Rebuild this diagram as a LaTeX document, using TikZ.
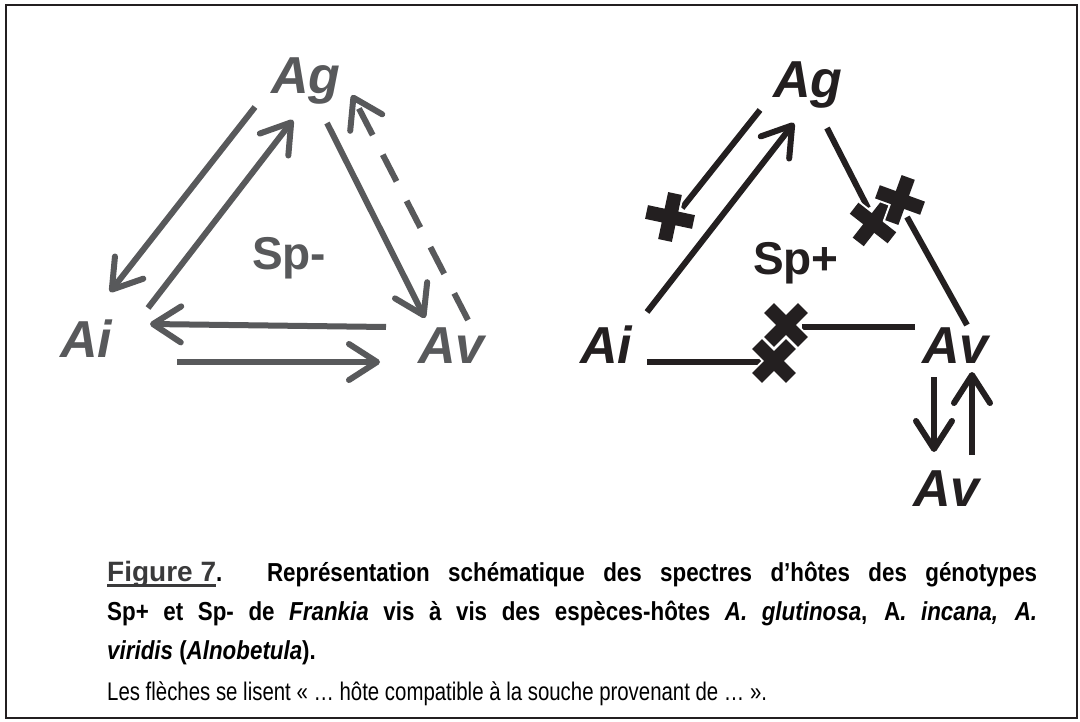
\documentclass[tikz,border=0pt]{standalone}
\usepackage{fontspec}
\setmainfont{Liberation Sans}
\newfontfamily\capfont[FakeStretch=0.86]{Liberation Sans}
\newfontfamily\capregfont[FakeStretch=0.80]{Liberation Sans}
\usetikzlibrary{arrows.meta}
\definecolor{gr}{HTML}{58595B}
\definecolor{bk}{HTML}{231F20}
\definecolor{figc}{HTML}{3A3A3B}
\tikzset{
  lab/.style={font=\fontsize{52}{52}\selectfont\bfseries\itshape, anchor=base west, inner sep=0pt},
  splab/.style={font=\fontsize{46}{46}\selectfont\bfseries, anchor=base west, inner sep=0pt},
  con/.style={line width=6pt},
  arr/.style={con, -{Straight Barb[length=28pt,width=36pt,round]}},
  captext/.style={anchor=base west, inner sep=0pt, font=\capfont\fontsize{26}{26}\selectfont\bfseries},
  capreg/.style={anchor=base west, inner sep=0pt, font=\capregfont\fontsize{25.5}{25.5}\selectfont},
}
\newcommand\mycross[3]{%
  \begin{scope}[shift={(#1,#2)},rotate=#3]
    \draw[white,line width=4pt] (7,24)--(7,7)--(24,7)--(24,-7)--(7,-7)--(7,-24)--(-7,-24)--(-7,-7)--(-24,-7)--(-24,7)--(-7,7)--(-7,24)--cycle;
    \fill[bk] (7,24)--(7,7)--(24,7)--(24,-7)--(7,-7)--(7,-24)--(-7,-24)--(-7,-7)--(-24,-7)--(-24,7)--(-7,7)--(-7,24)--cycle;
  \end{scope}}
\begin{document}
\begin{tikzpicture}[x=1pt,y=-1pt]
\useasboundingbox (0,0) rectangle (1080,722);
\fill[white] (0,0) rectangle (1080,722);
\draw[bk,line width=2pt] (6,5) rectangle (1077,718);

% ---- left triangle (Sp-)
\node[lab,text=gr] (lAg) at (271,94) {Ag};
\node[lab,text=gr] (lAi) at (60,358) {Ai};
\node[lab,text=gr] (lAv) at (418,363) {Av};
\node[splab,text=gr] (lsp) at (252,270) {Sp-};
\coordinate (l1s) at (255,107); \coordinate (l1e) at (110,292);
\coordinate (l2s) at (148,308); \coordinate (l2e) at (293,120);
\coordinate (l3s) at (327,123); \coordinate (l3e) at (425,318);
\coordinate (l4s) at (468,320); \coordinate (l4e) at (352,95);
\coordinate (l5s) at (386,327); \coordinate (l5e) at (150,324);
\coordinate (l6s) at (177,362); \coordinate (l6e) at (380,362);
\draw[arr,gr] (l1s) -- (l1e);
\draw[arr,gr] (l2s) -- (l2e);
\draw[arr,gr] (l3s) -- (l3e);
\draw[arr,gr,dash pattern=on 30pt off 22pt] (l4s) -- (l4e);
\draw[arr,gr] (l5s) -- (l5e);
\draw[arr,gr] (l6s) -- (l6e);

% ---- right triangle (Sp+)
\node[lab,text=bk] (rAg) at (773,98) {Ag};
\node[lab,text=bk] (rAi) at (580,363) {Ai};
\node[lab,text=bk] (rAv) at (922,363) {Av};
\node[lab,text=bk] (bAv) at (913,506) {Av};
\node[splab,text=bk] (rsp) at (753,275) {Sp+};
\coordinate (r1s) at (760,110); \coordinate (r1e) at (682,208);
\coordinate (r2s) at (647,312); \coordinate (r2e) at (794,123);
\coordinate (r3s) at (827,128); \coordinate (r3e) at (868,208);
\coordinate (r4s) at (967,325); \coordinate (r4e) at (907,217);
\coordinate (r5s) at (915,327); \coordinate (r5e) at (802,327);
\coordinate (r6s) at (647,362); \coordinate (r6e) at (762,362);
\coordinate (v1s) at (934,377); \coordinate (v1e) at (934,452);
\coordinate (v2s) at (972,455); \coordinate (v2e) at (972,372);
\draw[con,bk] (r1s) -- (r1e);
\draw[arr,bk] (r2s) -- (r2e);
\draw[con,bk] (r3s) -- (r3e);
\draw[con,bk] (r4s) -- (r4e);
\draw[con,bk] (r5s) -- (r5e);
\draw[con,bk] (r6s) -- (r6e);
\draw[arr,bk] (v1s) -- (v1e);
\draw[arr,bk] (v2s) -- (v2e);
\mycross{670}{217}{-12}
\mycross{873}{223}{-38}
\mycross{900}{200}{-20}
\mycross{786}{325}{45}
\mycross{774}{361}{45}

% ---- caption
\node[captext] (c1) at (107,581) {\hbox to 930pt{{\color{figc}\fontspec{Liberation Sans}\fontsize{28}{28}\selectfont\bfseries\setbox0\hbox{Figure 7}\rlap{\rule[-6pt]{\wd0}{3pt}}\box0}. Représentation schématique des spectres d’hôtes des génotypes}};
\node[captext] (c2) at (107,620) {\hbox to 930pt{Sp+ et Sp- de \textit{Frankia} vis à vis des espèces-hôtes \textit{A. glutinosa}, A\textit{. incana, A.}}};
\node[captext] (c3) at (107,659) {\textit{viridis} (\textit{Alnobetula}).};
\node[capreg] (c4) at (107,700) {Les flèches se lisent « … hôte compatible à la souche provenant de … ».};
\end{tikzpicture}
\end{document}
